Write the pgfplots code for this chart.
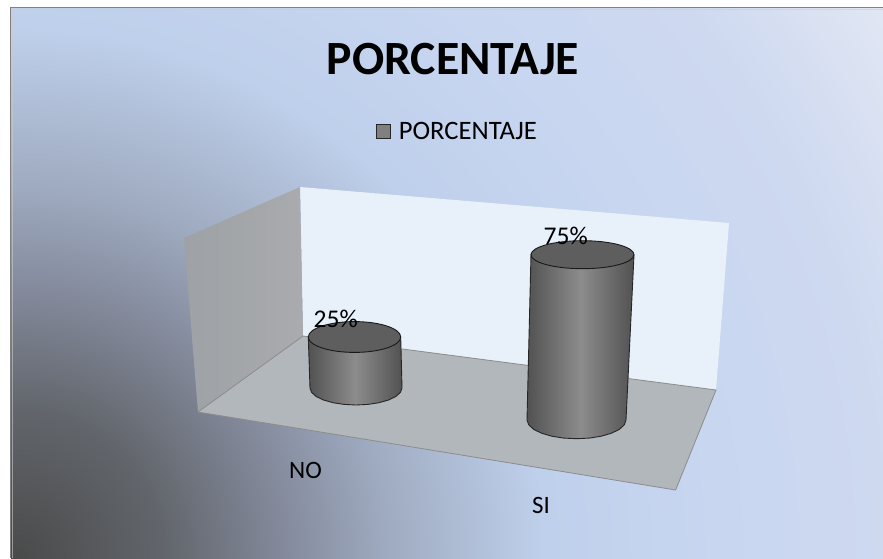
\documentclass[border=0pt]{standalone}
\usepackage{fontspec}
\setmainfont{Carlito}
\usepackage{pgfplots}
\pgfplotsset{compat=1.18}
\definecolor{b0}{HTML}{4A4A4A}
\definecolor{b1}{HTML}{62666C}
\definecolor{b2}{HTML}{888FA2}
\definecolor{b3}{HTML}{9EAABF}
\definecolor{b4}{HTML}{BFD0EC}
\definecolor{b5}{HTML}{C8D6F0}
\definecolor{b6}{HTML}{CED9F0}
\definecolor{b7}{HTML}{E0E6F3}
\definecolor{wallc}{HTML}{E8F0F9}
\definecolor{lwa}{HTML}{9EA1A5}
\definecolor{lwb}{HTML}{A9ABAE}
\definecolor{floorc}{HTML}{B1B7BA}
\pgfdeclareradialshading{bgs}{\pgfpoint{0bp}{0bp}}{color(0bp)=(b0); color(3.41bp)=(b1); color(6.49bp)=(b2); color(8.39bp)=(b3); color(12.05bp)=(b4); color(15.9bp)=(b5); color(19.75bp)=(b6); color(23.2bp)=(b7); color(50bp)=(b7)}
\begin{document}
\begin{tikzpicture}[x=1pt,y=1pt]
\useasboundingbox (0,0) rectangle (883,558);
\begin{scope}
\clip (11,0) rectangle (883,550);
\shade[shading=bgs] (15,0) circle[radius=1100];
\end{scope}
\draw[color=black!50,line width=1.6pt] (10.5,0) -- (10.5,550.5) -- (883,550.5);
\draw[color=white!60!gray,line width=1pt,opacity=.6] (12.5,0) -- (12.5,548.8) -- (883,548.8);
\begin{axis}[at={(0,0)},anchor=south west,width=883pt,height=558pt,scale only axis,
  xmin=0,xmax=883,ymin=0,ymax=558,hide axis,clip=false,
  title={\textbf{PORCENTAJE}},
  title style={at={(0.513,0.883)},anchor=center,font=\fontsize{47.7}{50}\selectfont},
  legend style={at={(0.5185,0.765)},anchor=center,draw=none,fill=none,font=\fontsize{26.6}{29}\selectfont,
    inner sep=0pt,legend cell align=left},
]
\addlegendimage{only marks,mark=square*,mark size=7pt,mark options={fill=black!50,draw=black!85,line width=1pt}}
\addlegendentry{\hspace{6pt}PORCENTAJE}
% back wall
\addplot[draw=none,fill=wallc,forget plot] coordinates {(300,371)(729,335)(716,168)(303,222)} -- cycle;
% left wall
\addplot[draw=none,left color=lwa,right color=lwb,forget plot] coordinates {(300,371)(184,320)(198,146)(303,222)} -- cycle;
% floor
\addplot[draw=black!45!white,line width=.8pt,fill=floorc,forget plot] coordinates {(303,222)(716,168)(675.6,68)(198,146)} -- cycle;
% cylinder NO
\addplot[draw=black!85,line width=.9pt,left color=black!68,right color=black!68,middle color=black!45,forget plot] coordinates {(308.3,221)(400.7,221)(402,170)(400.4,165.6)(395.8,161.5)(388.5,158)(379,155.3)(367.9,153.6)(356,153)(344.1,153.6)(333,155.3)(323.5,158)(316.2,161.5)(311.6,165.6)(310,170)} -- cycle;
\addplot[only marks,mark=*,mark size=1pt,mark options={xscale=46.2,yscale=15.4,fill=black!63,draw=black!90,line width=.9pt},forget plot] coordinates {(354.5,221)};
% cylinder SI
\addplot[draw=black!85,line width=.9pt,left color=black!68,right color=black!68,middle color=black!45,forget plot] coordinates {(531,304)(634,303)(626,138)(624.3,133.2)(619.4,128.65)(611.5,124.8)(601.25,121.8)(589.3,119.9)(576.5,119.3)(563.7,119.9)(551.75,121.8)(541.5,124.8)(533.6,128.65)(528.7,133.2)(527,138)} -- cycle;
\addplot[only marks,mark=*,mark size=1pt,mark options={xscale=51.5,yscale=14,fill=black!63,draw=black!90,line width=.9pt},forget plot] coordinates {(582.5,303.3)};
% value labels
\addplot[only marks,mark=none,forget plot,point meta=explicit symbolic,nodes near coords,
  nodes near coords style={anchor=center,inner sep=0pt,font=\fontsize{25.5}{27}\selectfont}] coordinates {(335.7,239)[25\%] (565.7,322)[75\%]};
% category labels
\addplot[only marks,mark=none,forget plot,point meta=explicit symbolic,nodes near coords,
  nodes near coords style={anchor=center,inner sep=0pt,font=\fontsize{25}{27}\selectfont}] coordinates {(305.5,88)[NO] (541,53)[SI]};
\end{axis}
\end{tikzpicture}
\end{document}
